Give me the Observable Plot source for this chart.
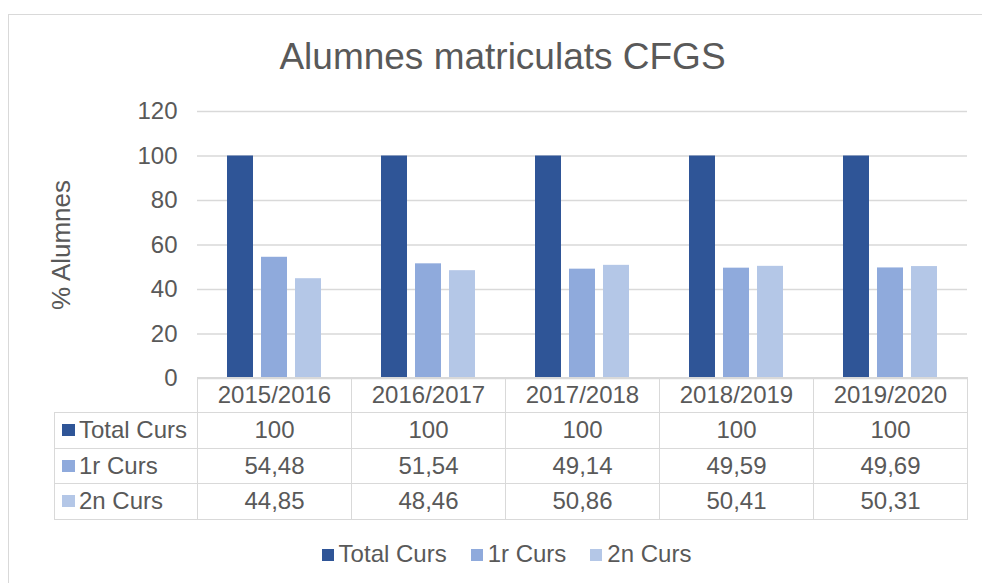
<!DOCTYPE html>
<html><head><meta charset="utf-8">
<script src="https://cdn.jsdelivr.net/npm/d3@7"></script>
<script src="https://cdn.jsdelivr.net/npm/@observablehq/plot@0.6"></script>
<style>
body{margin:0;background:#fff;font-family:"Liberation Sans",Arial,sans-serif;color:#595959;}
#wrap{position:relative;width:982px;height:583px;overflow:hidden;background:#fff;}
#frame{position:absolute;left:8px;top:14px;width:1000px;height:600px;border:1.5px solid #d9d9d9;box-sizing:border-box;}
#title{position:absolute;left:0;top:38px;width:1005px;text-align:center;font-size:37px;line-height:37px;white-space:nowrap;}
#chart{position:absolute;left:0;top:0;}
#chart g[aria-label="y-axis label"]{font-size:26px;}
#tbl{position:absolute;left:54px;top:377px;border-collapse:collapse;table-layout:fixed;font-size:24px;color:#595959;}
#tbl td{border:1.5px solid #d9d9d9;text-align:center;padding:0;white-space:nowrap;box-sizing:border-box;}
#tbl tr.h td{height:35px;}
#tbl tr.r td{height:35.5px;}
#tbl td.blank{border:none;}
#tbl td.lab{text-align:left;padding-left:7px;}
.sq{display:inline-block;width:13px;height:12px;margin-right:4px;vertical-align:2px;}
#legend{position:absolute;left:0;top:539px;width:1013px;text-align:center;font-size:24px;line-height:30px;white-space:nowrap;}
#legend .it{display:inline-block;margin:0 12px;}
#legend .sq{width:12px;height:12px;margin-right:5px;vertical-align:1px;}
</style>
</head><body>
<div id="wrap">
  <div id="frame"></div>
  <div id="title">Alumnes matriculats CFGS</div>
  <div id="chart"></div>
  <table id="tbl"></table>
  <div id="legend"></div>
</div>
<script>
const years = ["2015/2016","2016/2017","2017/2018","2018/2019","2019/2020"];
const series = ["Total Curs","1r Curs","2n Curs"];
const total = [100,100,100,100,100];
const curs1 = [54.48,51.54,49.14,49.59,49.69];
const curs2 = [44.85,48.46,50.86,50.41,50.31];
const yTicks = [0,20,40,60,80,100,120];
const colors = ["#2F5597","#8FAADC","#B4C7E7"];
const seriesValues = [total, curs1, curs2];

const data = years.flatMap((yr,i)=>series.map((s,j)=>({year:yr, series:s, value:seriesValues[j][i]})));

const chart = Plot.plot({
  width: 982, height: 400,
  marginLeft: 197, marginRight: 15, marginTop: 111, marginBottom: 22,
  style: {fontFamily:"Liberation Sans, Arial, sans-serif", fontSize:"24px", color:"#595959", background:"transparent", overflow:"visible"},
  fx: {domain: years, padding: 0, axis: null},
  x: {domain: series, paddingInner: 0.222, paddingOuter: 0.856, axis: null},
  y: {domain:[0,120], ticks: yTicks, tickSize:0, tickPadding:20, label:"% Alumnes", labelArrow:"none", labelAnchor:"center", labelOffset:146},
  color: {domain: series, range: colors},
  marks: [
    Plot.ruleY(yTicks, {stroke:"#d9d9d9", strokeWidth:1.4}),
    Plot.barY(data, {fx:"year", x:"series", y:"value", fill:"series"})
  ]
});
document.getElementById("chart").appendChild(chart);

// data table aligned to the fx band scale
const fx = chart.scale("fx");
const bw = fx.bandwidth;
const labW = fx.apply(years[0]) - 54;
const fmt = v => String(v).replace(".", ",");
const tbl = document.getElementById("tbl");
let html = `<colgroup><col style="width:${labW}px">` + years.map(()=>`<col style="width:${bw}px">`).join("") + `</colgroup>`;
html += `<tr class="h"><td class="blank"></td>` + years.map(y=>`<td>${y}</td>`).join("") + `</tr>`;
series.forEach((s,j)=>{
  html += `<tr class="r"><td class="lab"><span class="sq" style="background:${colors[j]}"></span>${s}</td>` +
    seriesValues[j].map(v=>`<td>${fmt(v)}</td>`).join("") + `</tr>`;
});
tbl.innerHTML = html;
tbl.style.width = (labW + bw*years.length) + "px";

document.getElementById("legend").innerHTML = series.map((s,j)=>
  `<span class="it"><span class="sq" style="background:${colors[j]}"></span>${s}</span>`).join("");
</script>
</body></html>
